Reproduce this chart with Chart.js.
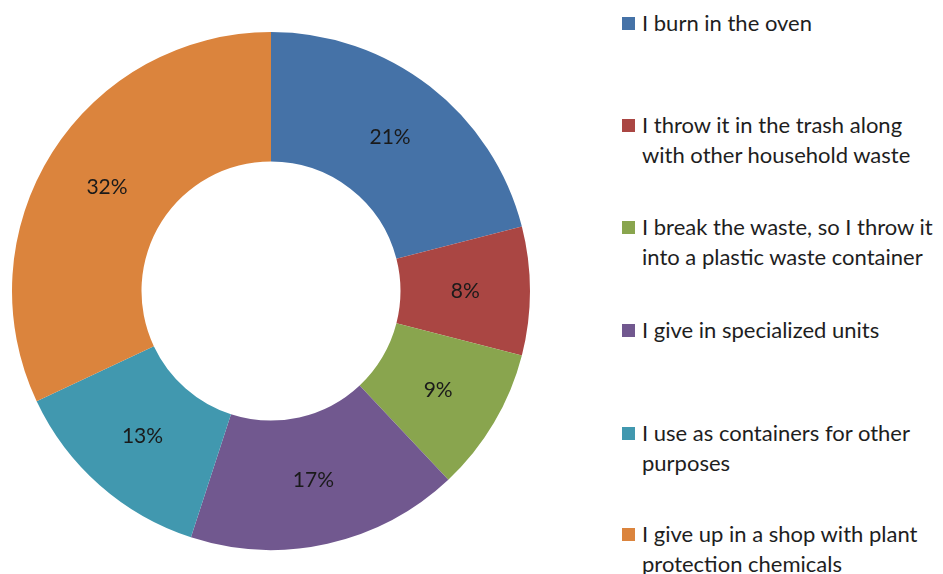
<!DOCTYPE html>
<html>
<head>
<meta charset="utf-8">
<script src="https://cdn.jsdelivr.net/npm/chart.js@4.4.1/dist/chart.umd.min.js"></script>
<style>
  html, body { margin: 0; padding: 0; background: #fff; }
  #wrap { position: relative; width: 943px; height: 574px; overflow: hidden; }
  #chartBox { position: absolute; left: 0; top: 0; width: 560px; height: 574px; }
  #legend { position: absolute; left: 622px; top: 0; width: 321px; }
  .item { position: absolute; left: 0; display: flex; align-items: flex-start; white-space: nowrap;
          font-family: Lato, "Noto Sans", sans-serif; font-size: 22px; line-height: 30px; color: #1e1e1e; }
  .box { flex: none; width: 13px; height: 13px; margin-top: 9px; margin-right: 7px; }
</style>
</head>
<body>
<div id="wrap">
  <div id="chartBox"><canvas id="pieChart" width="560" height="574"></canvas></div>
  <div id="legend"></div>
</div>
<script>
var categories = [
    'I burn in the oven',
    'I throw it in the trash along\nwith other household waste',
    'I break the waste, so I throw it\ninto a plastic waste container',
    'I give in specialized units',
    'I use as containers for other\npurposes',
    'I give up in a shop with plant\nprotection chemicals'
];
var shares = [21, 8, 9, 17, 13, 32];
var colors = ['#4572A7', '#AA4643', '#89A54E', '#71588F', '#4198AF', '#DB843D'];

// legend rows sit at fixed centres down the right side
var legendCentres = [23, 125, 227, 330, 433, 534];

// percentage text in the middle of each ring segment
var sliceLabels = {
    id: 'sliceLabels',
    afterDatasetsDraw: function(chart) {
        var ctx = chart.ctx;
        var meta = chart.getDatasetMeta(0);
        ctx.save();
        ctx.font = '21px Lato, "Noto Sans", sans-serif';
        ctx.fillStyle = '#1a1a1a';
        ctx.textAlign = 'center';
        ctx.textBaseline = 'middle';
        meta.data.forEach(function(arc, i) {
            var p = arc.tooltipPosition();
            ctx.fillText(shares[i] + '%', p.x, p.y);
        });
        ctx.restore();
    }
};

var config = {
    type: 'doughnut',
    data: {
        labels: categories,
        datasets: [{
            data: shares,
            backgroundColor: colors,
            borderWidth: 0
        }]
    },
    options: {
        responsive: false,
        animation: false,
        cutout: '50%',
        layout: { padding: { left: 12, right: 30, top: 32, bottom: 24 } },
        plugins: {
            legend: { display: false },
            tooltip: { enabled: false }
        }
    },
    plugins: [sliceLabels]
};

window.onload = function() {
    var pieChart = document.getElementById('pieChart').getContext('2d');
    window.myDoughnut = new Chart(pieChart, config);

    var legend = document.getElementById('legend');
    categories.forEach(function(name, i) {
        var row = document.createElement('div');
        row.className = 'item';
        row.style.top = (legendCentres[i] - 15) + 'px';
        var box = document.createElement('span');
        box.className = 'box';
        box.style.background = colors[i];
        var txt = document.createElement('span');
        txt.innerHTML = name.split('\n').join('<br>');
        row.appendChild(box);
        row.appendChild(txt);
        legend.appendChild(row);
    });
};
</script>
</body>
</html>
